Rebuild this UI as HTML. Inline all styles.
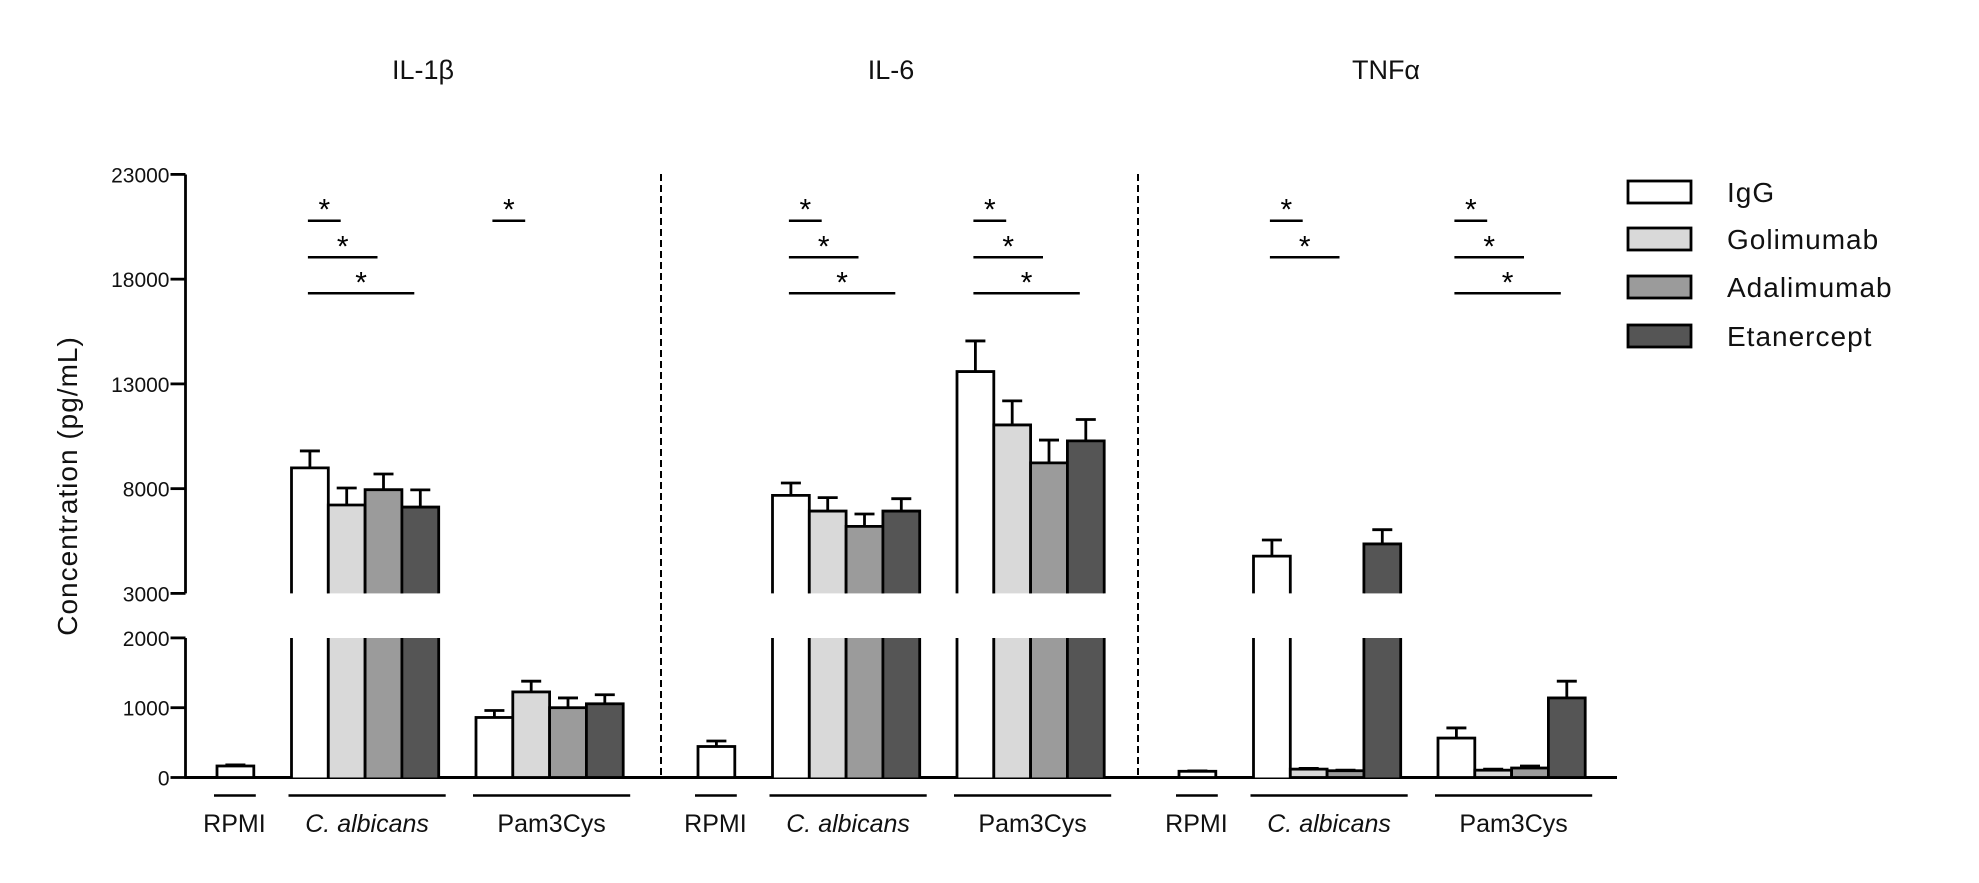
<!DOCTYPE html>
<html><head><meta charset="utf-8"><style>
html,body{margin:0;padding:0;background:#fff;}
svg{display:block;font-family:"Liberation Sans","DejaVu Sans",sans-serif;}
</style></head><body>
<svg id="chart" width="1979" height="883" viewBox="0 0 1979 883"></svg>
<script>
const panels = ["IL-1\u03B2", "IL-6", "TNF\u03B1"];
const groups = ["RPMI", "C. albicans", "Pam3Cys"];
const seriesNames = ["IgG", "Golimumab", "Adalimumab", "Etanercept"];
const seriesColors = ["#ffffff", "#d9d9d9", "#9b9b9b", "#555555"];
const il1bValues = [[165], [8990, 7220, 7950, 7120], [860, 1226, 1000, 1056]];
const il1bErrors = [[180], [9800, 8030, 8700, 7940], [960, 1380, 1140, 1186]];
const il6Values = [[444], [7680, 6930, 6200, 6930], [13590, 11040, 9230, 10280]];
const il6Errors = [[523], [8270, 7570, 6790, 7520], [15050, 12190, 10320, 11300]];
const tnfValues = [[89], [4780, 120, 97, 5360], [565, 105, 136, 1140]];
const tnfErrors = [[95], [5550, 130, 105, 6040], [710, 120, 165, 1380]];
const upperTicks = [23000, 18000, 13000, 8000, 3000];
const lowerTicks = [2000, 1000, 0];
const sigPairs = [[0,1,1],[0,1,2],[0,1,3],[0,2,1],[1,1,1],[1,1,2],[1,1,3],[1,2,1],[1,2,2],[1,2,3],[2,1,1],[2,1,2],[2,2,1],[2,2,2],[2,2,3]];

const allValues = [il1bValues, il6Values, tnfValues];
const allErrors = [il1bErrors, il6Errors, tnfErrors];

const NS = "http://www.w3.org/2000/svg";
const svg = document.getElementById("chart");
function el(tag, attrs, parent) {
  const e = document.createElementNS(NS, tag);
  for (const k in attrs) e.setAttribute(k, attrs[k]);
  (parent || svg).appendChild(e);
  return e;
}
const AX = 185.5, BASE = 777.5, BREAK_LO = 638, BREAK_HI = 593.4;
function yScale(v) {
  if (v <= 2000) return BASE - v * 0.0698;
  if (v >= 3000) return BREAK_HI - (v - 3000) * 0.02095;
  return BREAK_LO;
}
const BW = 36.8, PANEL_DX = 481, PANEL_X0 = 217;
const groupOffsets = [0, 74.5, 259];
function barX(p, g, s) { return PANEL_X0 + p * PANEL_DX + groupOffsets[g] + s * BW; }

const yl = el("line", {x1:AX,y1:174.5,x2:AX,y2:BREAK_HI,stroke:"#000","stroke-width":2.8});
 
const yl2 = el("line", {x1:AX,y1:BREAK_LO,x2:AX,y2:BASE,stroke:"#000","stroke-width":2.8});
 
const xl = el("line", {x1:AX-1,y1:BASE,x2:1617,y2:BASE,stroke:"#000","stroke-width":3});
 
[...upperTicks, ...lowerTicks].forEach(t => {
  const y = yScale(t);
  const tk = el("line", {x1:AX-15,y1:y,x2:AX,y2:y,stroke:"#000","stroke-width":2.8});
   
  const tl = el("text", {x:AX-16,y:y+8,"text-anchor":"end","font-size":21,fill:"#111"});
  tl.textContent = t;
   
});
const yt = el("text", {x:0,y:0,transform:"translate(77,486) rotate(-90)","text-anchor":"middle","font-size":28,fill:"#111","letter-spacing":"1"});
yt.textContent = "Concentration (pg/mL)";
 

[661, 1138].forEach(x => {
  const d = el("line", {x1:x,y1:174,x2:x,y2:BASE,stroke:"#000","stroke-width":2,"stroke-dasharray":"7,4"});
   
});

const titleX = [423, 891, 1386];
panels.forEach((pn, p) => {
  const t = el("text", {x:titleX[p],y:79,"text-anchor":"middle","font-size":27,fill:"#111"});
  t.textContent = pn;
   
  groups.forEach((gn, g) => {
    const vals = allValues[p][g], errs = allErrors[p][g];
    const gx0 = barX(p, g, 0), gx1 = barX(p, g, vals.length);
    const ul = el("line", {x1:gx0-3,y1:795.5,x2:gx1+(vals.length>1?7:2),y2:795.5,stroke:"#000","stroke-width":2.5});
     
    const gl = el("text", {x:(gx0+gx1)/2+(vals.length>1?2:-1),y:832,"text-anchor":"middle","font-size":25,fill:"#111","font-style":g===1?"italic":"normal"});
    gl.textContent = gn;
     
    vals.forEach((v, s) => {
      const x = barX(p, g, s), cx = x + BW/2;
      const yv = yScale(v), ye = yScale(errs[s]);
      const gEl = el("g", {});
      
      
      el("line", {x1:cx,y1:yv,x2:cx,y2:ye,stroke:"#000","stroke-width":2.8}, gEl);
      el("line", {x1:cx-10,y1:ye,x2:cx+10,y2:ye,stroke:"#000","stroke-width":2.8}, gEl);
      if (v <= 2000) {
        el("rect", {x:x,y:yv,width:BW,height:BASE-yv,fill:seriesColors[s],stroke:"#000","stroke-width":2.8}, gEl);
      } else {
        el("rect", {x:x,y:BREAK_LO,width:BW,height:BASE-BREAK_LO,fill:seriesColors[s]}, gEl);
        el("rect", {x:x,y:yv,width:BW,height:BREAK_HI-yv,fill:seriesColors[s]}, gEl);
        el("path", {d:`M${x},${BASE}V${BREAK_LO}M${x+BW},${BASE}V${BREAK_LO}M${x},${BREAK_HI}V${yv}H${x+BW}V${BREAK_HI}`,fill:"none",stroke:"#000","stroke-width":2.8}, gEl);
      }
    });
  });
});

const rowY = [220.7, 257.3, 293.3];
sigPairs.forEach(([p, g, s]) => {
  const x1 = barX(p, g, 0) + BW/2 - 2;
  const x2 = barX(p, g, s) + BW/2 - 6;
  const y = rowY[s-1];
  const ln = el("line", {x1:x1,y1:y,x2:x2,y2:y,stroke:"#000","stroke-width":2.5});
   
  const st = el("text", {x:(x1+x2)/2,y:y-1,"text-anchor":"middle","font-size":30,fill:"#000"});
  st.textContent = "*";
   
});

const legY = [192, 239, 287, 336];
seriesNames.forEach((n, i) => {
  const g = el("g", {});
  
  
  el("rect", {x:1628,y:legY[i]-11,width:63,height:22,fill:seriesColors[i],stroke:"#000","stroke-width":2.8}, g);
  const t = el("text", {x:1727,y:legY[i]+10,"font-size":28,fill:"#111","letter-spacing":"1"}, g);
  t.textContent = n;
});
</script>
</body></html>
